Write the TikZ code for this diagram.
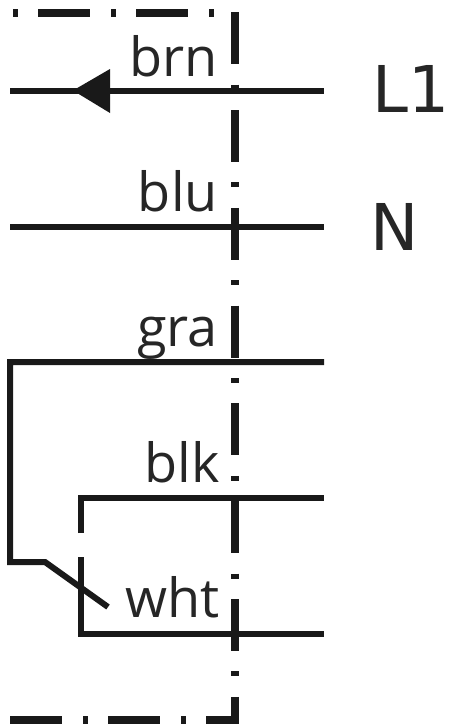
\documentclass[tikz,border=0pt]{standalone}
\usepackage{fontspec}
\setmainfont{Open Sans}
\newfontfamily\termfont{DejaVu Sans}
\begin{document}
\begin{tikzpicture}[x=1pt,y=-1pt,
  wire/.style={line width=6pt,draw=black!90},
  frameline/.style={line width=8pt,draw=black!90},
  lbl/.style={inner sep=0pt,anchor=base east,font=\fontsize{54}{54}\selectfont,text=black!85},
  term/.style={inner sep=0pt,anchor=base west,font=\termfont\fontsize{64.5}{64.5}\selectfont,text=black!85}]
\useasboundingbox (0,0) rectangle (449,725);
\fill[white] (0,0) rectangle (449,725);
% frame
\coordinate (ftl) at (13,13);
\coordinate (ftr) at (214,13);
\coordinate (vt) at (235,12.2);
\coordinate (vb) at (235,724);
\coordinate (fbl) at (10,720);
\coordinate (fbr) at (239,720);
\draw[frameline,dash pattern=on 5pt off 20pt on 52pt off 21pt] (ftl) -- (ftr);
\draw[frameline,dash pattern=on 52pt off 20.4pt on 5pt off 20.4pt] (vt) -- (vb);
\draw[frameline,dash pattern=on 52pt off 21pt on 5pt off 20pt] (fbl) -- (fbr);
% wires
\coordinate (a1) at (10,90.5);   \coordinate (a2) at (324,90.5);
\coordinate (b1) at (10,226.5);  \coordinate (b2) at (324,226.5);
\coordinate (c0) at (10,562);    \coordinate (c1) at (10,362);  \coordinate (c2) at (324,362);
\coordinate (c3) at (45,562);    \coordinate (c4) at (108,607);
\coordinate (d0) at (81,533);    \coordinate (d1) at (81,498);  \coordinate (d2) at (324,498);
\coordinate (e0) at (81,557);    \coordinate (e1) at (81,634);  \coordinate (e2) at (324,634);
\coordinate (tip) at (73,90.5);  \coordinate (bu) at (110,69);  \coordinate (bd) at (110,113);
\draw[wire] (a1) -- (a2);
\draw[wire] (b1) -- (b2);
\draw[wire,line join=miter] (c4) -- (c3) -- (c0) -- (c1) -- (c2);
\draw[wire,line join=miter] (d0) -- (d1) -- (d2);
\draw[wire,line join=miter] (e0) -- (e1) -- (e2);
\fill[black!90] (tip) -- (bu) -- (bd) -- cycle;
% labels
\node[lbl] (brn) at (218,76) {brn};
\node[lbl] (blu) at (218,211) {blu};
\node[lbl] (gra) at (218,346) {gra};
\node[lbl] (blk) at (220,482) {blk};
\node[lbl] (wht) at (220,617) {wht};
\node[term] (L1) at (372,112) {L1};
\node[term] (N) at (370,250) {N};
\end{tikzpicture}
\end{document}
